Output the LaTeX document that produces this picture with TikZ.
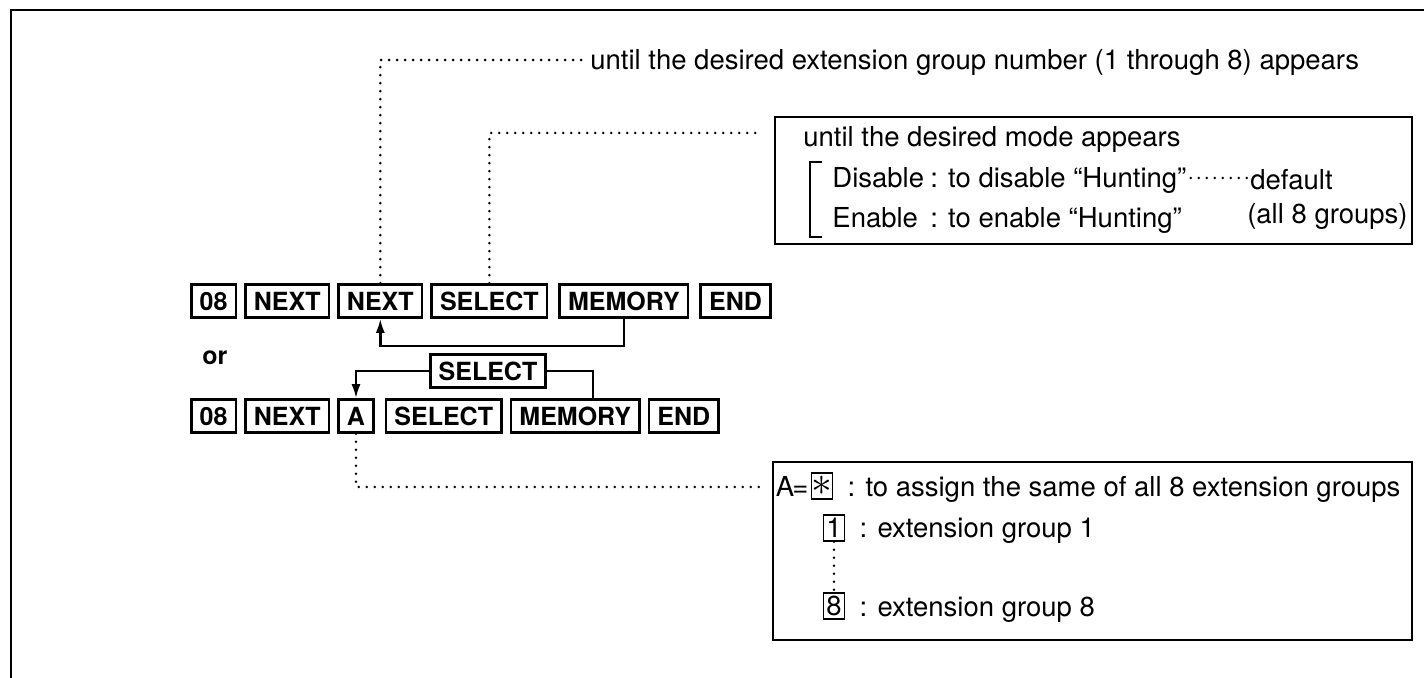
\documentclass[tikz,border=0pt]{standalone}
\usepackage{fontspec}
\setmainfont{TeX Gyre Heros}
\usetikzlibrary{positioning,arrows.meta}

\begin{document}
\begin{tikzpicture}[x=0.5pt,y=-0.5pt,
  key/.style={draw,line width=1.3pt,inner xsep=4.2pt,inner ysep=3.6pt,text height=9.3pt,text depth=0pt,font=\fontsize{12.5}{12.5}\selectfont\bfseries},
  txt/.style={inner sep=0pt,text height=10pt,text depth=0pt,font=\fontsize{13.75}{16}\selectfont},
  numkey/.style={draw,line width=0.8pt,inner sep=0pt,minimum width=10.5pt,minimum height=13pt,font=\fontsize{13.75}{16}\selectfont},
  panel/.style={draw,line width=1pt,inner sep=0pt},
  dotline/.style={line width=1.4pt,dash pattern=on 0pt off 4pt,line cap=round},
  loopline/.style={line width=1.2pt,-{Latex[length=7pt,width=4.5pt]}},
  node distance=3.5pt]
  \useasboundingbox (0,0) rectangle (1424,678);
  \draw[line width=1pt] (11,678) -- (11,10) -- (1424,10);
  % first sequence
  \node[key,anchor=west] (ka1) at (190,301) {08};
  \node[key,right=of ka1] (ka2) {NEXT};
  \node[key,right=of ka2] (ka3) {NEXT};
  \node[key,right=of ka3] (ka4) {SELECT};
  \node[key,right=5pt of ka4] (ka5) {MEMORY};
  \node[key,right=5pt of ka5] (ka6) {END};
  \draw[loopline] (ka5.south) -- ++(0,27) -| (ka3.south);
  \node[anchor=west,inner sep=0pt,font=\fontsize{12.5}{12.5}\selectfont\bfseries] (alt) at (202,358) {or};
  % second sequence
  \node[key,anchor=west] (kb1) at (190,416) {08};
  \node[key,right=of kb1] (kb2) {NEXT};
  \node[key,right=of kb2] (kb3) {A};
  \node[key,right=5pt of kb3] (kb4) {SELECT};
  \node[key,right=of kb4] (kb5) {MEMORY};
  \node[key,right=of kb5] (kb6) {END};
  \node[key] (kb7) at (488,371) {SELECT};
  \draw[loopline] (kb7.west) -| (kb3.north);
  \draw[line width=1.2pt] (kb7.east) -| ([xshift=9pt]kb5.north);
  % notes
  \node[txt,anchor=west] (ttl) at (590,60) {until the desired extension group number (1 through 8) appears};
  \draw[dotline] (ka3.north) |- ([xshift=-3pt]ttl.west);
  \coordinate (mj) at (760,133);
  \draw[dotline] (ka4.north) |- (mj);
  \coordinate (ej) at (764,487);
  \draw[dotline] (kb3.south) |- (ej);
  % mode box
  \node[panel,minimum width=318.5pt,minimum height=63.5pt] (mbox) at (1093.5,180.5) {};
  \node[txt,anchor=west] (mt) at (803,137) {until the desired mode appears};
  \node[txt,anchor=west] (dis) at (832,178) {Disable};
  \node[txt,anchor=west] (disx) at (930,178) {: to disable “Hunting”};
  \node[txt,anchor=west] (ena) at (832,218) {Enable};
  \node[txt,anchor=west] (enax) at (930,218) {: to enable “Hunting”};
  \node[txt,anchor=west] (dflt) at (1250,180) {default};
  \node[txt,anchor=east] (grp) at (1408,214) {(all 8 groups)};
  \draw[dotline] ([xshift=2pt]disx.east) -- ([xshift=-1pt]disx.east -| dflt.west);
  \draw[line width=0.8pt] (822,162) -- (810,162) -- (810,237) -- (822,237);
  % extension box
  \node[panel,minimum width=319.5pt,minimum height=89pt] (ebox) at (1092.5,551) {};
  \node[numkey] (ks) at (822,486) {\fontsize{20}{20}\selectfont$\ast$};
  \node[txt,anchor=east] (aeq) at ([xshift=-1pt]ks.west) {A\kern-1pt=};
  \node[txt,right=7pt of ks] (asg) {: to assign the same of all 8 extension groups};
  \node[numkey] (k1) at (834,528) {1};
  \node[txt,right=7pt of k1] (g1) {: extension group 1};
  \node[numkey] (k8) at (834,606) {8};
  \node[txt,right=7pt of k8] (g8) {: extension group 8};
  \draw[dotline] (k1.south) -- (k8.north);
\end{tikzpicture}
\end{document}
